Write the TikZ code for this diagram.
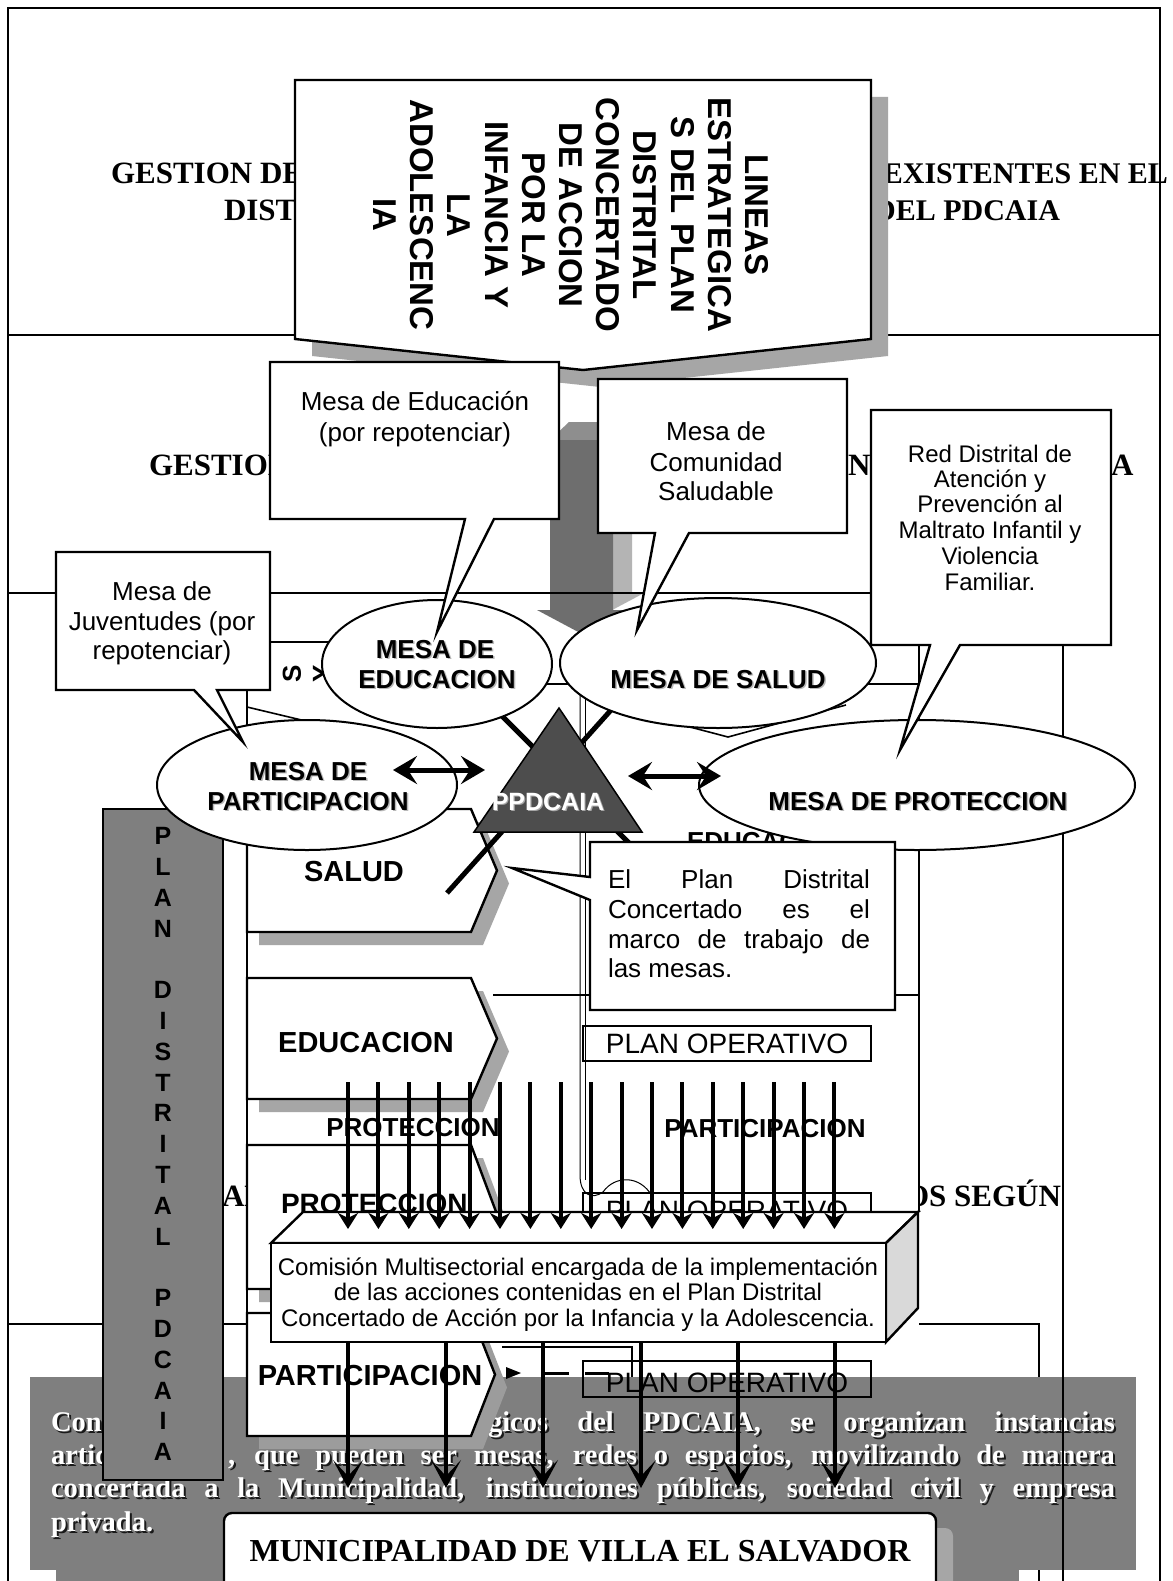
\documentclass[tikz,border=0pt]{standalone}
\usepackage{fontspec}
\setmainfont{Liberation Serif}
\setsansfont{Liberation Sans}
\usetikzlibrary{arrows.meta}
\definecolor{gBand}{HTML}{7F7F7F}
\definecolor{gShadow}{HTML}{A6A6A6}
\definecolor{gShadowB}{HTML}{9C9C9C}
\definecolor{gDark}{HTML}{4D4D4D}
\definecolor{gArrD}{HTML}{6E6E6E}
\definecolor{gArrT}{HTML}{8E8E8E}
\definecolor{gArrL}{HTML}{B4B4B4}
\definecolor{gSide}{HTML}{D9D9D9}
\newcommand\fs[2]{\fontsize{#1}{#2}\selectfont}
\newcommand\chev[4]{%
  \fill[#4,shift={(12,13)}] (247,#1) -- (471,#1) -- (#3,{(#1+#2)/2}) -- (471,#2) -- (247,#2) -- cycle;
  \filldraw[fill=white,draw=black,line width=2.4pt] (247,#1) -- (471,#1) -- (#3,{(#1+#2)/2}) -- (471,#2) -- (247,#2) -- cycle;}
\newcommand\shtxt[4]{%
  \node[lbl,gray!55,anchor=base,xshift=1.5pt,yshift=-1.5pt] at (#1,#2) {#3};
  \node[lbl,anchor=base] (#4) at (#1,#2) {#3};}
\newcommand\bandline[4]{%
  \node[bandf,black!90,anchor=base west,xshift=2pt,yshift=-2pt] at (#1,#2) {#3};
  \node[bandf,white,anchor=base west] (#4) at (#1,#2) {#3};}
\tikzset{
  every node/.style={inner sep=0pt,outer sep=0pt},
  tline/.style={line width=1.6pt},
  bx/.style={draw=black,line width=2.4pt,fill=white},
  lbl/.style={font=\sffamily\bfseries\fs{26}{30}},
  reg/.style={font=\sffamily\fs{26}{30}},
  ser/.style={font=\rmfamily\bfseries\fs{31}{36}},
  serR/.style={font=\rmfamily\bfseries\fs{30}{36}},
  bandf/.style={font=\rmfamily\bfseries\fs{28.5}{33}},
  chevlbl/.style={font=\sffamily\bfseries\fs{29}{32}},
}
\begin{document}
\begin{tikzpicture}[x=1pt,y=-1pt]
\useasboundingbox (0,0) rectangle (1172,1581);
\fill[white] (0,0) rectangle (1172,1581);

% big grey 3D arrow
\fill[gArrL] (613,440) -- (632,422) -- (632,592) -- (646,592) -- (601,616) -- (582,634) -- (627,610) -- (613,610) -- cycle;
\fill[gArrT] (550,440) -- (569,422) -- (632,422) -- (613,440) -- cycle;
\fill[gArrD] (550,440) -- (613,440) -- (613,610) -- (627,610) -- (582,634) -- (537,610) -- (550,610) -- cycle;

% background frame
\draw[tline] (8,8) rectangle (1160,1600);
\draw[tline] (8,335) -- (1160,335);
\draw[tline] (8,593) -- (871,593);
\draw[tline] (8,1324) -- (1039,1324) -- (1039,1600);

% row texts
\node[ser,anchor=base west] (r1a) at (111,184) {GESTION DE};
\node[serR,anchor=base east] (r1b) at (1168,184) {EXISTENTES EN EL};
\node[ser,anchor=base west] (r1c) at (224,220) {DISTRITO};
\node[serR,anchor=base east] (r1d) at (1060,220) {DEL PDCAIA};
\node[ser,anchor=base west] (r2a) at (149,475) {GESTION};
\node[ser,anchor=base west] (r2b) at (848,475) {NE};
\node[ser,anchor=base west] (r2c) at (1111,475) {A};
\node[ser,anchor=base west] (r3a) at (222,1206) {AL};
\node[ser,anchor=base east] (r3b) at (1061,1206) {OS SEGÚN};

% sector table
\fill[white] (247,642) rectangle (919,1440);
\draw[tline] (247,642) -- (247,1440);
\draw[tline] (247,642) -- (345,642);
\draw[tline] (540,684) -- (919,684);
\draw[tline] (919,645) -- (919,1212);
\draw[tline] (247,707) -- (335,728);
\draw[tline] (846,705) -- (728,737) -- (690,727);
\draw[tline] (493,995) -- (919,995);
\draw[line width=1pt] (580,690) -- (580,1175) .. controls (580,1195) and (592,1200) .. (603,1192);
\draw[line width=1pt] (603,1192) .. controls (615,1175) and (640,1175) .. (652,1196);
\draw[line width=1pt] (585,690) -- (585,1180);
\node[lbl,anchor=base west] (educa) at (687,850) {EDUCACION};
\draw[line width=2pt] (583,1026) rectangle (871,1061);
\node[font=\sffamily\fs{28}{30},anchor=base] (po1) at (727,1053) {PLAN OPERATIVO};
\draw[line width=2pt] (583,1193) rectangle (871,1228);
\node[font=\sffamily\fs{28}{30},anchor=base] (po2) at (727,1220) {PLAN OPERATIVO};
\node[lbl,anchor=base] (partR) at (765,1137) {PARTICIPACION};
\chev{809}{932}{497}{gShadow}
\chev{978}{1099}{497}{gShadow}
\chev{1145}{1289}{498}{gShadow}
\node[chevlbl,anchor=base] (salud) at (354,881) {SALUD};
\node[chevlbl,anchor=base] (educ) at (366,1052) {EDUCACION};
\node[lbl,anchor=base] (prot1) at (413,1136) {PROTECCION};
\node[font=\sffamily\bfseries\fs{28}{30},anchor=base west] (prot2) at (281,1213) {PROTECCION};
\node[lbl,rotate=90] (rs) at (292,674) {S};
\node[lbl,rotate=90] (ry) at (322,674) {Y};

% grey band with text
\fill[gBand] (30,1377) rectangle (1136,1570);
\bandline{51}{1431}{Con}{b1a}
\bandline{488}{1431}{\makebox[627pt][s]{gicos del PDCAIA, se organizan instancias}}{b1b}
\bandline{51}{1464}{artic}{b2a}
\bandline{228}{1464}{\makebox[887pt][s]{, que pueden ser mesas, redes o espacios, movilizando de manera}}{b2b}
\bandline{51}{1497}{\makebox[1064pt][s]{concertada a la Municipalidad, instituciones públicas, sociedad civil y empresa}}{b3}
\bandline{51}{1531}{privada.}{b4}

% lower participacion chevron
\chev{1313}{1436}{495}{gShadowB}
\node[chevlbl,anchor=base] (partL) at (370,1385) {PARTICIPACION};
\draw[line width=2pt] (583,1361) rectangle (871,1397);
\node[font=\sffamily\fs{28}{30},anchor=base] (po3) at (727,1392) {PLAN OPERATIVO};
\draw[line width=2pt] (502,1347) -- (632,1347) -- (632,1377);
\fill (506,1367) -- (521,1373) -- (506,1379) -- cycle;
\draw[line width=3pt,dash pattern=on 24pt off 16pt] (545,1373) -- (612,1373);

\draw[tline] (1063,645) -- (1063,1600);

% municipalidad
\fill[gBand] (56,1569) rectangle (1019,1600);
\fill[gShadow,rounded corners=8pt] (241,1528) rectangle (953,1620);
\filldraw[fill=white,draw=black,line width=2.4pt,rounded corners=8pt] (224,1513) rectangle (936,1620);
\node[font=\rmfamily\bfseries\fs{32}{36},anchor=base] (muni) at (580,1561) {MUNICIPALIDAD DE VILLA EL SALVADOR};

% plan distrital bar
\filldraw[fill=gBand,draw=black,line width=2.4pt] (103,809) rectangle (223,1480);
\foreach \lett [count=\i from 0] in {P,L,A,N,,D,I,S,T,R,I,T,A,L,,P,D,C,A,I,A}
  \node[font=\sffamily\bfseries\fs{25}{28}] (bar\i) at (163,{836+30.8*\i}) {\lett};

% title callout
\fill[gShadow,shift={(17,17)}] (295,80) -- (871,80) -- (871,339) -- (583,370) -- (295,339) -- cycle;
\filldraw[bx] (295,80) -- (871,80) -- (871,339) -- (583,370) -- (295,339) -- cycle;
\node[font=\sffamily\bfseries\fs{33}{37.2},align=center,rotate=-90] (title) at (571,215)
  {LINEAS\\ESTRATEGICA\\S DEL PLAN\\DISTRITAL\\CONCERTADO\\DE ACCION\\POR LA\\INFANCIA Y\\LA\\ADOLESCENC\\IA};

% thick lines behind triangle
\draw[line width=5pt] (490,704) -- (640,854);
\draw[line width=5pt] (620,700) -- (447,893);

% ellipses
\filldraw[fill=white,draw=black,line width=2pt] (437,664) ellipse [x radius=115pt,y radius=64pt];
\filldraw[fill=white,draw=black,line width=2pt] (718,663) ellipse [x radius=158pt,y radius=65pt];
\filldraw[fill=white,draw=black,line width=2pt] (307,785) ellipse [x radius=150pt,y radius=65pt];
\filldraw[fill=white,draw=black,line width=2pt] (917,785) ellipse [x radius=218pt,y radius=65pt];
\shtxt{435}{658}{MESA DE}{me1}
\shtxt{437}{688}{EDUCACION}{me2}
\shtxt{718}{688}{MESA DE SALUD}{ms1}
\shtxt{308}{780}{MESA DE}{mp1}
\shtxt{308}{810}{PARTICIPACION}{mp2}
\shtxt{918}{810}{MESA DE PROTECCION}{mr1}

% triangle
\filldraw[fill=gDark,draw=black,line width=1.5pt] (559,708) -- (642,832) -- (474,832) -- cycle;
\node[font=\sffamily\bfseries\fs{25}{28},gray!70,anchor=base,xshift=1.2pt,yshift=-1.2pt] at (548,810) {PPDCAIA};
\node[font=\sffamily\bfseries\fs{25}{28},white,anchor=base] (ppd) at (548,810) {PPDCAIA};
\draw[line width=5pt,{Stealth[length=24pt,width=28pt,inset=9pt]}-{Stealth[length=24pt,width=28pt,inset=9pt]}] (393,770) -- (485,770);
\draw[line width=5pt,{Stealth[length=24pt,width=28pt,inset=9pt]}-{Stealth[length=24pt,width=28pt,inset=9pt]}] (628,776) -- (721,776);

% El Plan callout
\filldraw[bx] (590,842) -- (895,842) -- (895,1010) -- (590,1010) -- (590,900) -- (512,868) -- (590,877) -- cycle;
\node[reg,anchor=base west] (ep1) at (608,888) {\makebox[262pt][s]{El Plan Distrital}};
\node[reg,anchor=base west] (ep2) at (608,918) {\makebox[262pt][s]{Concertado es el}};
\node[reg,anchor=base west] (ep3) at (608,948) {\makebox[262pt][s]{marco de trabajo de}};
\node[reg,anchor=base west] (ep4) at (608,977) {las mesas.};

% callouts
\filldraw[bx] (270,362) -- (559,362) -- (559,519) -- (494,519) -- (437,632) -- (465,519) -- (270,519) -- cycle;
\node[reg,anchor=base] (ce1) at (415,410) {Mesa de Educación};
\node[reg,anchor=base] (ce2) at (415,441) {(por repotenciar)};
\filldraw[bx] (598,379) -- (847,379) -- (847,533) -- (689,533) -- (637,630) -- (655,533) -- (598,533) -- cycle;
\node[reg,anchor=base] (cc1) at (716,440) {Mesa de};
\node[reg,anchor=base] (cc2) at (716,471) {Comunidad};
\node[reg,anchor=base] (cc3) at (716,500) {Saludable};
\filldraw[bx] (871,410) -- (1111,410) -- (1111,645) -- (960,645) -- (900,750) -- (930,645) -- (871,645) -- cycle;
\node[font=\sffamily\fs{24}{26},anchor=base] (cr1) at (990,462) {Red Distrital de};
\node[font=\sffamily\fs{24}{26},anchor=base] (cr2) at (990,487) {Atención y};
\node[font=\sffamily\fs{24}{26},anchor=base] (cr3) at (990,512) {Prevención al};
\node[font=\sffamily\fs{24}{26},anchor=base] (cr4) at (990,538) {Maltrato Infantil y};
\node[font=\sffamily\fs{24}{26},anchor=base] (cr5) at (990,564) {Violencia};
\node[font=\sffamily\fs{24}{26},anchor=base] (cr6) at (990,590) {Familiar.};
\filldraw[bx] (56,552) -- (270,552) -- (270,690) -- (217,690) -- (243,742) -- (194,690) -- (56,690) -- cycle;
\node[reg,anchor=base] (cj1) at (162,600) {Mesa de};
\node[reg,anchor=base] (cj2) at (162,630) {Juventudes (por};
\node[reg,anchor=base] (cj3) at (162,659) {repotenciar)};

% comision 3D box
\filldraw[fill=white,draw=black,line width=2.4pt] (271,1243) -- (303,1212) -- (918,1212) -- (886,1243) -- cycle;
\filldraw[fill=gSide,draw=black,line width=2.4pt] (886,1243) -- (918,1212) -- (918,1308) -- (886,1342) -- cycle;
\filldraw[fill=white,draw=black,line width=2.4pt] (271,1243) rectangle (886,1342);
\node[font=\sffamily\fs{24}{26},anchor=base] (cm1) at (578,1275) {Comisión Multisectorial encargada de la implementación};
\node[font=\sffamily\fs{24}{26},anchor=base] (cm2) at (578,1300) {de las acciones contenidas en el Plan Distrital};
\node[font=\sffamily\fs{24}{26},anchor=base] (cm3) at (578,1326) {Concertado de Acción por la Infancia y la Adolescencia.};
\foreach \i in {0,...,16}
  \draw[line width=4pt,-{Stealth[length=16pt,width=20pt,inset=5pt]}] ({348+30.4*\i},1082) -- ({348+30.4*\i},1229);
\foreach \x in {348,446,543,641,738,835}
  \draw[line width=4pt,-{Stealth[length=28pt,width=30pt,inset=16pt]}] (\x,1342) -- (\x,1488);
\end{tikzpicture}
\end{document}
